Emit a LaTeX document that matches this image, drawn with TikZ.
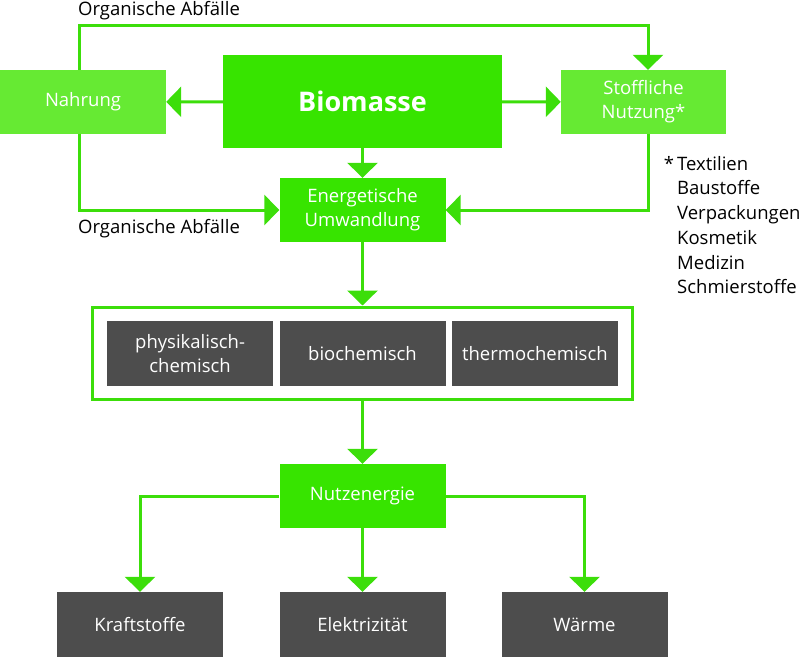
\documentclass[tikz,border=0pt]{standalone}
\usepackage{fontspec}
\setmainfont{Open Sans}
\usetikzlibrary{positioning,arrows.meta}
\definecolor{hauptgruen}{RGB}{55,228,0}
\definecolor{hellgruen}{RGB}{102,234,51}
\definecolor{liniengruen}{RGB}{60,222,10}
\definecolor{dunkelgrau}{RGB}{77,77,77}
\tikzset{
  kasten/.style={
    rectangle,
    inner sep=0pt,
    align=center,
    text=white,
    font=\fontsize{18.5}{24}\selectfont,
    minimum width=166pt,
    minimum height=64pt
  },
  gruenbox/.style={kasten,fill=hauptgruen},
  hellbox/.style={kasten,fill=hellgruen},
  graubox/.style={kasten,fill=dunkelgrau,minimum height=65pt},
  pfeil/.style={draw=liniengruen,line width=3pt,
    -{Triangle[length=15pt,width=30pt]}},
  beschriftung/.style={font=\fontsize{18.5}{24.7}\selectfont,inner sep=0pt}
}
\begin{document}
\begin{tikzpicture}[x=1pt,y=-1pt]
\useasboundingbox (0,0) rectangle (800,657);

\node[gruenbox,minimum width=279pt,minimum height=93pt,
  font=\fontsize{27}{32}\selectfont\bfseries]
  (biomasse) at (362.5,101.5) {Biomasse};
\node[hellbox] (nahrung) at (83,102) {Nahrung};
\node[hellbox,minimum width=165pt] (stoff) at (643.5,102) {Stoffliche\\Nutzung*};
\node[gruenbox] (energie) at (362.5,210) {Energetische\\Umwandlung};

\node[draw=liniengruen,line width=3pt,minimum width=540pt,
  minimum height=92pt] (verfahren) at (362.5,353) {};
\node[graubox] (bio) at (362.5,353.5) {biochemisch};
\node[graubox,left=6pt of bio] (phys) {physikalisch-\\chemisch};
\node[graubox,right=6pt of bio] (thermo) {thermochemisch};

\node[gruenbox] (nutz) at (362.5,496) {Nutzenergie};
\node[graubox] (kraft) at (140,624.5) {Kraftstoffe};
\node[graubox] (strom) at (362.5,624.5) {Elektrizität};
\node[graubox] (waerme) at (584.5,624.5) {Wärme};

\node[beschriftung,anchor=base west] (abfallOben) at (78,15) {Organische Abfälle};
\node[beschriftung,anchor=base west] (abfallUnten) at (78,233) {Organische Abfälle};
\node[beschriftung,anchor=north west,align=left] (liste) at (677,156)
{\llap{*\,}Textilien\\Baustoffe\\Verpackungen\\Kosmetik\\Medizin\\Schmierstoffe};

\coordinate (oben) at (362.5,25);

\draw[pfeil] (biomasse) -- (nahrung);
\draw[pfeil] (biomasse) -- (stoff);
\draw[pfeil] (biomasse) -- (energie);
\draw[pfeil] ([xshift=-4pt]nahrung.north) |- (oben) -| ([xshift=4.5pt]stoff.north);
\draw[pfeil] ([xshift=-4pt]nahrung.south) |- (energie.west);
\draw[pfeil] ([xshift=4.5pt]stoff.south) |- (energie.east);
\draw[pfeil] (energie) -- (verfahren);
\draw[pfeil] (verfahren) -- (nutz);
\draw[pfeil] (nutz) -| (kraft);
\draw[pfeil] (nutz) -- (strom);
\draw[pfeil] (nutz) -| (waerme);

\end{tikzpicture}
\end{document}
